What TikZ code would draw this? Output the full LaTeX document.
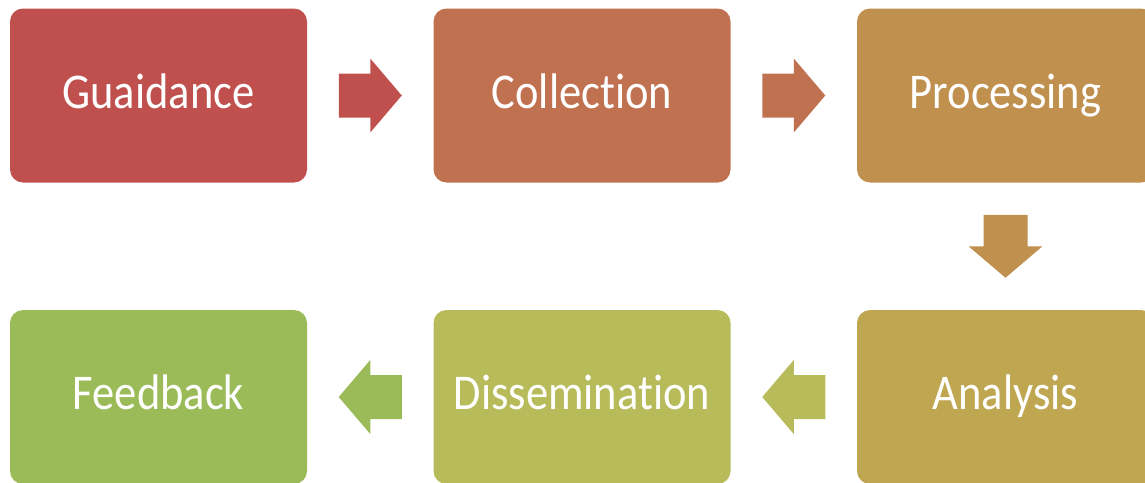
\documentclass[tikz,border=0pt]{standalone}
\usepackage{fontspec}
\setmainfont[FakeStretch=0.89, Ligatures=NoCommon]{Carlito}
\usetikzlibrary{calc}
\definecolor{cA}{HTML}{C0504D}
\definecolor{cB}{HTML}{C0714F}
\definecolor{cC}{HTML}{C0904F}
\definecolor{cD}{HTML}{BFA752}
\definecolor{cE}{HTML}{B7BB5A}
\definecolor{cF}{HTML}{9BBB59}
\begin{document}
\begin{tikzpicture}[x=1pt,y=-1pt,
  box/.style={rounded corners=13pt, minimum width=297pt, minimum height=174pt,
    inner sep=0pt, text=white, text height=35pt, text depth=10pt,
    font=\fontsize{50}{60}\selectfont},
  blockarrow/.pic={\fill (-31.5,-22) -- (0,-22) -- (0,-37) -- (31.5,0) -- (0,37) -- (0,22) -- (-31.5,22) -- cycle;}
]
\useasboundingbox (0,0) rectangle (1145,482);
\clip (0,0) rectangle (1145,482);
\node[box, fill=cA] (g) at (158.5,95.5) {Guaidance};
\node[box, fill=cB] (c) at (582,95.5) {Collection};
\node[box, fill=cC] (p) at (1005.5,95.5) {Processing};
\node[box, fill=cD] (a) at (1005.5,397) {Analysis};
\node[box, fill=cE] (d) at (582,397) {Dissemination};
\node[box, fill=cF] (f) at (158.5,397) {Feedback};
\coordinate (m1) at ($(g.east)!0.5!(c.west)$);
\coordinate (m2) at ($(c.east)!0.5!(p.west)$);
\coordinate (m3) at ($(p.south)!0.5!(a.north)$);
\coordinate (m4) at ($(a.west)!0.5!(d.east)$);
\coordinate (m5) at ($(d.west)!0.5!(f.east)$);
\pic[fill=cA] at (m1) {blockarrow};
\pic[fill=cB] at (m2) {blockarrow};
\pic[fill=cC, rotate=-90] at (m3) {blockarrow};
\pic[fill=cE, rotate=180] at (m4) {blockarrow};
\pic[fill=cF, rotate=180] at (m5) {blockarrow};
\end{tikzpicture}
\end{document}
